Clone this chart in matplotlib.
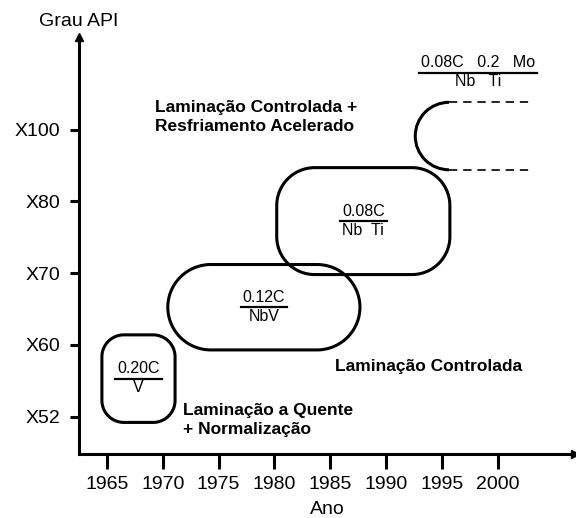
import numpy as np
import matplotlib.pyplot as plt
from matplotlib.patches import Polygon, Arc

plt.rcParams['font.family'] = ['Liberation Sans', 'DejaVu Sans']

# axis categories
years = [1965, 1970, 1975, 1980, 1985, 1990, 1995, 2000]
grades = ['X52', 'X60', 'X70', 'X80', 'X100']

# steel generations: period (years) and API grade span (grade index)
steel_num = ['0.20C', '0.12C', '0.08C']
steel_den = ['V', 'NbV', 'Nb  Ti']
year_start = [1964.55, 1970.45, 1980.2]
year_end = [1971.1, 1987.65, 1995.7]
grade_low = [-0.08, 0.93, 1.98]
grade_high = [1.14, 2.12, 3.47]
corner_px = [22, 43, 38]

# open-ended latest generation
open_num = '0.08C   0.2   Mo'
open_den = 'Nb   Ti'
open_start = 1992.6
open_end = 2003.0
open_low = 3.44
open_high = 4.38

# process labels: (text, year, grade)
processes = [
    ('Laminação Controlada +\nResfriamento Acelerado', 1969.3, 4.18),
    ('Laminação Controlada', 1985.4, 0.70),
    ('Laminação a Quente\n+ Normalização', 1971.8, -0.05),
]

fig = plt.figure(figsize=(5.76, 5.18), dpi=100)
ax = fig.add_axes([79 / 576, 1 - 454 / 518, 496 / 576, 417 / 518])
ax.set_xlim(1962.5, 2006.9)
ax.set_ylim(-0.52, 5.29)

ax.spines['top'].set_visible(False)
ax.spines['right'].set_visible(False)
for s in ['left', 'bottom']:
    ax.spines[s].set_linewidth(2.2)
ax.plot(1, 0, '>', color='black', ms=6, transform=ax.transAxes, clip_on=False)
ax.plot(0, 1, '^', color='black', ms=6, transform=ax.transAxes, clip_on=False)

ax.set_xticks(years)
ax.set_xticklabels([str(y) for y in years], fontsize=14)
ax.set_yticks(range(len(grades)))
ax.set_yticklabels(grades, fontsize=14)
ax.tick_params(axis='x', length=10.5, width=2.2, pad=5)
ax.tick_params(axis='y', length=6.5, width=2.2, pad=7)
ax.set_xlabel('Ano', fontsize=14, labelpad=6)
fig.text(79 / 576, 1 - 22 / 518, 'Grau API', fontsize=14, ha='center', va='center')

# pixels per data unit, so rounded corners stay circular
p0 = ax.transData.transform((0, 0))
p1 = ax.transData.transform((1, 1))
px_year = p1[0] - p0[0]
px_grade = p1[1] - p0[1]

fig.canvas.draw()
renderer = fig.canvas.get_renderer()
inv = ax.transData.inverted()


def rounded_box(x0, x1, y0, y1, r_px):
    rx = r_px / px_year
    ry = r_px / px_grade
    rx = min(rx, (x1 - x0) / 2)
    ry = min(ry, (y1 - y0) / 2)
    pts = []
    corners = [(x1 - rx, y1 - ry, 0), (x0 + rx, y1 - ry, 90),
               (x0 + rx, y0 + ry, 180), (x1 - rx, y0 + ry, 270)]
    for cx, cy, a0 in corners:
        t = np.radians(np.linspace(a0, a0 + 90, 30))
        pts.extend(zip(cx + rx * np.cos(t), cy + ry * np.sin(t)))
    return Polygon(pts, closed=True, fc='none', ec='black', lw=2.2, joinstyle='round')


def fraction(xc, yc, num, den):
    t = ax.text(xc, yc + 2.5 / px_grade, num, ha='center', va='bottom', fontsize=11.5)
    ax.text(xc, yc - 1.5 / px_grade, den, ha='center', va='top', fontsize=11.5)
    bb = t.get_window_extent(renderer)
    x0 = inv.transform((bb.x0 - 2, 0))[0]
    x1 = inv.transform((bb.x1 + 2, 0))[0]
    ax.plot([x0, x1], [yc, yc], color='black', lw=1.6)


for i in range(len(steel_num)):
    ax.add_patch(rounded_box(year_start[i], year_end[i], grade_low[i], grade_high[i],
                             corner_px[i]))
    fraction((year_start[i] + year_end[i]) / 2, (grade_low[i] + grade_high[i]) / 2,
             steel_num[i], steel_den[i])

# open generation: half arc + dashed continuation
oh = open_high - open_low
ow = oh * px_grade / px_year
ax.add_patch(Arc((open_start + ow / 2, open_low + oh / 2), ow, oh,
                 theta1=90, theta2=270, color='black', lw=2.2))
for gy in [open_low, open_high]:
    ax.plot([open_start + ow / 2, open_end], [gy, gy], color='black', lw=1.2,
            dashes=(5, 3.5))
fraction(1998.2, 4.79, open_num, open_den)

for txt, x, y in processes:
    ax.text(x, y, txt, fontsize=12.5, fontweight='bold', ha='left', va='center',
            linespacing=1.35)

fig.savefig('out.png', dpi=100, facecolor='white')
